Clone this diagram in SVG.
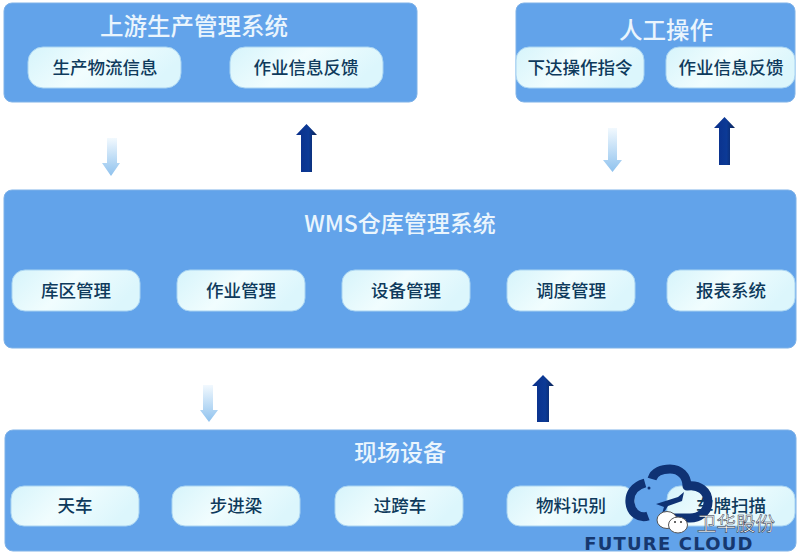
<svg xmlns="http://www.w3.org/2000/svg" width="800" height="557" viewBox="0 0 800 557">
<style>
.panel{fill:#62a3ea;stroke:#7fb2e8;stroke-width:1}
.pill{fill:url(#pillG);stroke:#a9d4f2;stroke-width:1}
text{font-family:"Noto Sans CJK SC","Liberation Sans",sans-serif;text-anchor:middle}
.pt{font-size:17.500px;fill:#0e3a5c;font-weight:500}
.ht{font-size:23.500px;fill:#eaf5fd;font-weight:500}
.st{font-size:23px;fill:#eaf5fd;font-weight:500}
.up{fill:url(#upG)}
.dn{fill:url(#dnG)}
.logo{fill:none;stroke:#0f3274;stroke-width:9;stroke-linecap:butt;stroke-linejoin:round}
</style>
<defs>
<linearGradient id="pillG" x1="0" y1="0" x2="1" y2="0.3"><stop offset="0" stop-color="#d6f4fb"/><stop offset="0.5" stop-color="#f1fdfe"/><stop offset="1" stop-color="#dcf6fc"/></linearGradient>
<linearGradient id="upG" x1="0" y1="0" x2="1" y2="0"><stop offset="0" stop-color="#0a2f8a"/><stop offset="0.6" stop-color="#0c3a96"/><stop offset="1" stop-color="#0b2456"/></linearGradient>
<linearGradient id="dnG" x1="0" y1="0" x2="0" y2="1"><stop offset="0" stop-color="#f2f9fe"/><stop offset="1" stop-color="#8fc2ee"/></linearGradient>
</defs>
<rect width="800" height="557" fill="#fff"/>
<g id="connectors">
<path class="dn" d="M107 138h10v25h3l-9 13-9-13h5z"/>
<path class="up" d="M301 172v-37h-5l10.500-11 10.500 11h-5v37z"/>
<path class="dn" d="M608 128h9v32h5l-9.500 12-9.500-12h5z"/>
<path class="up" d="M719 165v-37h-5l10.500-11 10.500 11h-5v37z"/>
<path class="dn" d="M203 385h10v25h5l-9 12-9-12h3z"/>
<path class="up" d="M537 422v-36h-5l11-11 11 11h-5v36z"/>
</g>
<g id="upstream">
<rect class="panel" x="4" y="3" width="413" height="99" rx="8"/>
<text class="ht" x="194" y="35">上游生产管理系统</text>
<rect class="pill" x="28" y="47" width="153" height="41" rx="15"/>
<text class="pt" x="105" y="74">生产物流信息</text>
<rect class="pill" x="230" y="47" width="153" height="41" rx="15"/>
<text class="pt" x="306" y="74">作业信息反馈</text>
</g>
<g id="manual">
<rect class="panel" x="516" y="3" width="279" height="99" rx="8"/>
<text class="ht" x="666" y="39">人工操作</text>
<rect class="pill" x="516" y="47" width="128" height="41" rx="13"/>
<text class="pt" x="580" y="74">下达操作指令</text>
<rect class="pill" x="666" y="47" width="129" height="41" rx="13"/>
<text class="pt" x="731" y="74">作业信息反馈</text>
</g>
<g id="wms">
<rect class="panel" x="4" y="190" width="792" height="158" rx="8"/>
<text class="st" x="400" y="232">WMS仓库管理系统</text>
<rect class="pill" x="12" y="270" width="128" height="41" rx="13"/>
<text class="pt" x="76" y="297">库区管理</text>
<rect class="pill" x="177" y="270" width="128" height="41" rx="13"/>
<text class="pt" x="241" y="297">作业管理</text>
<rect class="pill" x="342" y="270" width="128" height="41" rx="13"/>
<text class="pt" x="406" y="297">设备管理</text>
<rect class="pill" x="507" y="270" width="128" height="41" rx="13"/>
<text class="pt" x="571" y="297">调度管理</text>
<rect class="pill" x="667" y="270" width="128" height="41" rx="13"/>
<text class="pt" x="731" y="297">报表系统</text>
</g>
<g id="field">
<rect class="panel" x="5" y="430" width="791" height="121" rx="8"/>
<text class="st" x="400" y="461">现场设备</text>
<rect class="pill" x="11" y="486" width="128" height="40" rx="13"/>
<text class="pt" x="75" y="512">天车</text>
<rect class="pill" x="172" y="486" width="128" height="40" rx="13"/>
<text class="pt" x="236" y="512">步进梁</text>
<rect class="pill" x="335" y="486" width="128" height="40" rx="13"/>
<text class="pt" x="400" y="512">过跨车</text>
<rect class="pill" x="507" y="486" width="127" height="40" rx="13"/>
<text class="pt" x="571" y="512">物料识别</text>
<rect class="pill" x="667" y="486" width="128" height="40" rx="13"/>
<text class="pt" x="731" y="512">车牌扫描</text>
</g>
<g id="logo">
<path class="logo" d="M645 483C634 486 629 494 630 503C631 513 640 519 648 516"/>
<path class="logo" d="M652 479C654 472 662 469 670 469C680 469 687 476 687 486C699 484 708 491 708 502C708 512 699 518 690 518H667"/>
<path d="M656 504L678 497 684 492 682 501 668 506 661 517 664 507z" fill="#0f3274"/>
<circle cx="649" cy="488" r="1.500" fill="#0f3274"/>
<text x="669" y="550" style="font-family:'DejaVu Sans',sans-serif;font-size:18px;font-weight:700;fill:#16386f;letter-spacing:1.200px">FUTURE CLOUD</text>
</g>
<g id="watermark">
<ellipse cx="667" cy="520" rx="10" ry="8.500" fill="#fff" stroke="#555" stroke-width="1"/>
<ellipse cx="678" cy="525" rx="9.500" ry="8" fill="#fff" stroke="#555" stroke-width="1"/>
<circle cx="675" cy="522" r="1" fill="#333"/>
<circle cx="681" cy="522" r="1" fill="#333"/>
<text x="736" y="531" style="font-size:19.500px;fill:#fff;stroke:#1d2a3a;stroke-width:0.500px">卫华股份</text>
</g>
</svg>
